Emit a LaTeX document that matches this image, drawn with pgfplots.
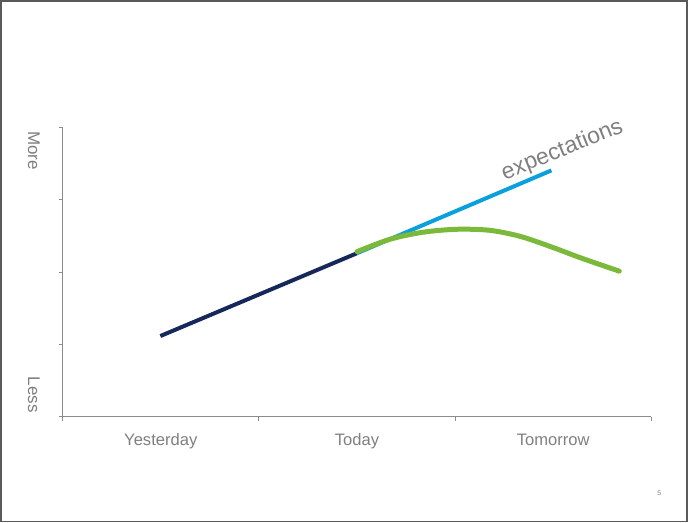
\documentclass[border=0pt]{standalone}
\usepackage{pgfplots}
\pgfplotsset{compat=1.18}
\usepackage{fontspec}
\setmainfont{Liberation Sans}
\definecolor{navy}{HTML}{16275A}
\definecolor{skyb}{HTML}{0AA0DC}
\definecolor{lgreen}{HTML}{7AB93A}
\definecolor{txtgray}{HTML}{7F7F7F}
\definecolor{axgray}{HTML}{8C8C8C}
\begin{document}
\begin{tikzpicture}
\draw[color=black!65, line width=0.8pt] (0,0) rectangle (344pt,261pt);
\node[txtgray, font=\fontsize{3.5}{4}\selectfont] at (330pt,14.5pt) {5};
\begin{axis}[
  at={(31pt,52.5pt)}, anchor=south west,
  scale only axis, width=295pt, height=145pt,
  xmin=0, xmax=3, ymin=0, ymax=4,
  axis lines*=left,
  axis line style={axgray, line width=0.6pt},
  xtick={0.5,1.5,2.5},
  xticklabels={Yesterday,Today,Tomorrow},
  minor xtick={0,1,2,3},
  ytick={0,1,2,3,4},
  yticklabels={},
  tick align=outside,
  major x tick style={draw=none},
  major y tick style={axgray, line width=0.5pt},
  minor tick style={axgray, line width=0.5pt},
  major tick length=2pt, minor tick length=2pt,
  xticklabel style={txtgray, font=\fontsize{8.3}{10}\selectfont, yshift=-3pt},
  clip=false,
]
\addplot[navy, line width=2pt] coordinates {(0.498,1.117) (1.5,2.262)};
\addplot[skyb, line width=2pt] coordinates {(1.5,2.262) (2.491,3.407)};
\addplot[lgreen, line width=2.5pt, smooth, line cap=round] coordinates {
 (1.500,2.283) (1.668,2.455) (1.836,2.552) (2.008,2.593) (2.176,2.579)
 (2.329,2.497) (2.481,2.359) (2.649,2.189) (2.837,2.014)};
\node[txtgray, rotate=22, font=\fontsize{11.5}{13}\selectfont] at (axis cs:2.547,3.683) {expectations};
\node[txtgray, rotate=-90, font=\fontsize{8.5}{10}\selectfont] at (axis cs:-0.147,3.683) {More};
\node[txtgray, rotate=-90, font=\fontsize{8.5}{10}\selectfont] at (axis cs:-0.147,0.303) {Less};
\end{axis}
\end{tikzpicture}
\end{document}
